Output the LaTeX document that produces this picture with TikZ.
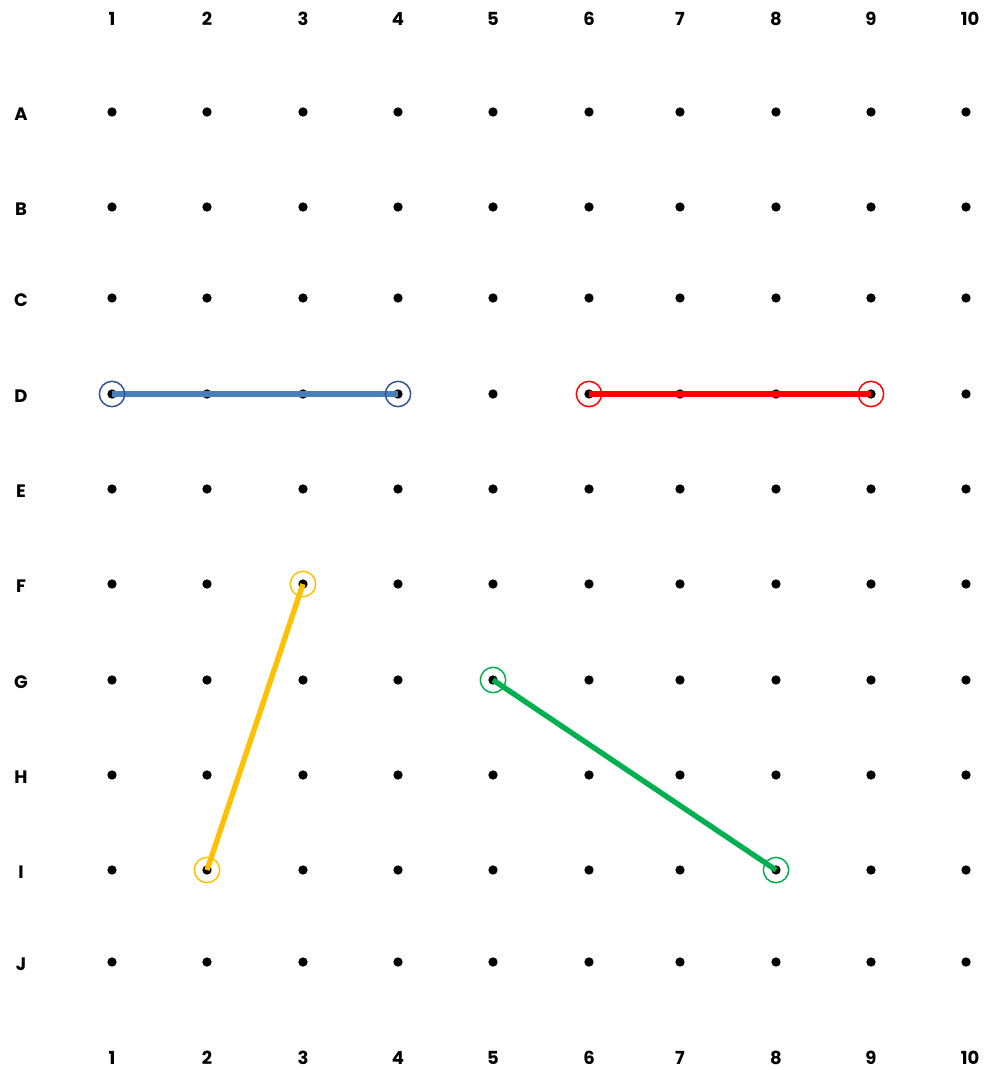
\documentclass[tikz,border=0pt]{standalone}
\usepackage{fontspec}
\setmainfont{Poppins}
\definecolor{lineblue}{HTML}{4A7EBB}
\definecolor{ringblue}{HTML}{2F5597}
\definecolor{linered}{HTML}{FF0000}
\definecolor{lineyellow}{HTML}{FFC000}
\definecolor{linegreen}{HTML}{00B050}
\tikzset{
  dot/.style={circle,fill=black,inner sep=0pt,minimum size=7},
  ring/.style={circle,draw=#1,line width=1.1,inner sep=0pt,minimum size=19},
  seg/.style={line width=4,#1},
  lab/.style={font=\fontsize{13.5}{15}\selectfont\bfseries,inner sep=0pt}
}
\begin{document}
\begin{tikzpicture}[x=0.75pt,y=-0.75pt]
  \useasboundingbox[fill=white] (0,0) rectangle (998,1070);

  % pegboard: column numbers, row letters and the dots
  \foreach \c/\x in {1/112,2/207,3/303,4/398,5/493,6/589,7/680,8/776,9/871,10/970} {
    \node[lab] (top\c) at (\x,19) {\c};
    \node[lab] (bot\c) at (\x,1058) {\c};
  }
  \foreach \r/\y in {A/112,B/207,C/298,D/394,E/489,F/584,G/680,H/775,I/870,J/962} {
    \node[lab] (lab\r) at (21,\y+2) {\r};
    \foreach \c/\x in {1/112,2/207,3/303,4/398,5/493,6/589,7/680,8/776,9/871,10/966}
      \node[dot] (\r\c) at (\x,\y) {};
  }

  % the four segments
  \draw[seg=lineblue] (D1.center) -- (D4.center);
  \draw[seg=linered,line width=5] (D6.center) -- (D9.center);
  \draw[seg=lineyellow] (F3.center) -- (I2.center);
  \draw[seg=linegreen] (G5.center) -- (I8.center);

  % end point markers
  \node[ring=ringblue] (mD1) at (D1) {};
  \node[ring=ringblue] (mD4) at (D4) {};
  \node[ring=linered] (mD6) at (D6) {};
  \node[ring=linered] (mD9) at (D9) {};
  \node[ring=lineyellow] (mF3) at (F3) {};
  \node[ring=lineyellow] (mI2) at (I2) {};
  \node[ring=linegreen] (mG5) at (G5) {};
  \node[ring=linegreen] (mI8) at (I8) {};
\end{tikzpicture}
\end{document}
